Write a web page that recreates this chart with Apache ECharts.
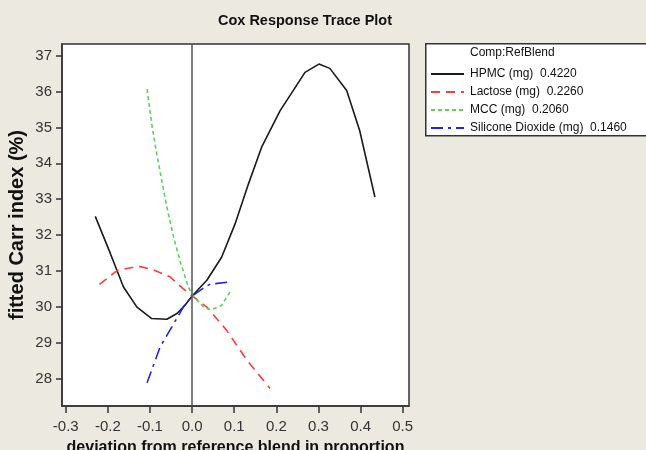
<!DOCTYPE html>
<html>
<head>
<meta charset="utf-8">
<script src="https://cdn.jsdelivr.net/npm/echarts@6/dist/echarts.min.js"></script>
<style>
html,body{margin:0;padding:0;background:#ECE9E1;}
#chart{width:646px;height:450px;}
</style>
</head>
<body>
<div id="chart"></div>
<script>
var title = 'Cox Response Trace Plot';
var xName = 'deviation from reference blend in proportion';
var yName = 'fitted Carr index (%)';
var legendHeader = 'Comp:RefBlend';
var seriesNames = ['HPMC (mg)  0.4220', 'Lactose (mg)  0.2260', 'MCC (mg)  0.2060', 'Silicone Dioxide (mg)  0.1460'];

var xTicks = [-0.3, -0.2, -0.1, 0.0, 0.1, 0.2, 0.3, 0.4, 0.5];
var yTicks = [28, 29, 30, 31, 32, 33, 34, 35, 36, 37];

var hpmcX = [-0.23, -0.194, -0.163, -0.131, -0.096, -0.06, -0.036, -0.017, 0.0, 0.035, 0.07, 0.102, 0.133, 0.165, 0.209, 0.24, 0.268, 0.301, 0.327, 0.367, 0.398, 0.434];
var hpmcY = [32.52, 31.48, 30.55, 29.99, 29.67, 29.65, 29.81, 30.04, 30.3, 30.74, 31.38, 32.31, 33.4, 34.45, 35.47, 36.03, 36.54, 36.77, 36.65, 36.03, 34.91, 33.06];

var lactoseX = [-0.22, -0.178, -0.127, -0.092, -0.052, -0.021, 0.0, 0.035, 0.082, 0.13, 0.185];
var lactoseY = [30.62, 31.01, 31.13, 31.03, 30.83, 30.5, 30.3, 29.99, 29.34, 28.51, 27.72];

var mccX = [-0.107, -0.096, -0.084, -0.072, -0.06, -0.044, -0.028, -0.009, 0.003, 0.027, 0.045, 0.07, 0.09];
var mccY = [36.07, 35.1, 34.26, 33.52, 32.78, 31.94, 31.25, 30.55, 30.3, 29.99, 29.91, 30.04, 30.41];

var siliconeX = [-0.107, -0.076, -0.048, -0.021, 0.0, 0.027, 0.043, 0.09];
var siliconeY = [27.88, 28.88, 29.44, 29.99, 30.3, 30.52, 30.63, 30.69];

function pairs(xs, ys) { return xs.map(function (x, i) { return [x, ys[i]]; }); }

var chart = echarts.init(document.getElementById('chart'), null, {renderer: 'canvas'});
var FONT = '"Liberation Sans", Arial, sans-serif';

function lineSeries(name, xs, ys, color, dash) {
  return {
    name: name, type: 'line', data: pairs(xs, ys),
    symbol: 'none', showSymbol: false, silent: true, animation: false,
    lineStyle: {color: color, width: 1.6, type: dash},
    itemStyle: {color: color}
  };
}

var series = [
  lineSeries(seriesNames[0], hpmcX, hpmcY, '#1a1a1a', 'solid'),
  lineSeries(seriesNames[1], lactoseX, lactoseY, '#ff3b3b', [9, 6]),
  lineSeries(seriesNames[2], mccX, mccY, '#5fcf5f', [4, 3]),
  lineSeries(seriesNames[3], siliconeX, siliconeY, '#2020f0', [12, 5, 3, 5])
];
series[0].markLine = {
  silent: true, symbol: 'none', animation: false,
  label: {show: false},
  lineStyle: {color: '#555555', width: 1.5, type: 'solid'},
  data: [{xAxis: 0}]
};

chart.setOption({
  backgroundColor: '#ECE9E1',
  animation: false,
  title: {
    text: title, left: 300, top: 8, textAlign: 'center',
    textStyle: {fontFamily: FONT, fontSize: 14.5, fontWeight: 'bold', color: '#111'}
  },
  grid: {
    left: 62, top: 44, right: 237, bottom: 44,
    containLabel: false, outerBoundsMode: 'none',
    show: true, backgroundColor: '#ffffff', borderColor: '#333333', borderWidth: 1.5
  },
  legend: {
    orient: 'vertical', left: 425, top: 63,
    itemWidth: 33, itemHeight: 10, itemGap: 6,
    data: seriesNames,
    selectedMode: false,
    itemStyle: {opacity: 0},
    textStyle: {fontFamily: FONT, fontSize: 12, color: '#111', padding: [0, 0, 0, 1]}
  },
  graphic: [
    {type: 'rect', left: 425, top: 43, shape: {width: 240, height: 92}, z: -1,
     style: {fill: '#ffffff', stroke: '#333333', lineWidth: 1.5}},
    {type: 'text', left: 470, top: 47, z: 10,
     style: {text: legendHeader, font: '12px ' + FONT, fill: '#111'}}
  ],
  xAxis: {
    type: 'value', min: -0.309, max: 0.515,
    name: xName, nameLocation: 'middle', nameGap: 34,
    nameTextStyle: {fontFamily: FONT, fontSize: 16, fontWeight: 'bold', color: '#111'},
    axisLine: {show: true, onZero: false, lineStyle: {color: '#333', width: 1.5}},
    axisTick: {show: true, inside: false, length: 7, customValues: xTicks, lineStyle: {color: '#333', width: 1.5}},
    axisLabel: {customValues: xTicks, margin: 13, fontFamily: FONT, fontSize: 15, color: '#333',
      formatter: function (v) { return v.toFixed(1); }},
    splitLine: {show: false}
  },
  yAxis: {
    type: 'value', min: 27.23, max: 37.33,
    name: yName, nameLocation: 'middle', nameGap: 35, nameMoveOverlap: false,
    nameTextStyle: {fontFamily: FONT, fontSize: 20, fontWeight: 'bold', color: '#111'},
    axisLine: {show: true, onZero: false, lineStyle: {color: '#333', width: 1.5}},
    axisTick: {show: true, inside: false, length: 6, customValues: yTicks, lineStyle: {color: '#333', width: 1.5}},
    axisLabel: {customValues: yTicks, margin: 10, fontFamily: FONT, fontSize: 15, color: '#333'},
    splitLine: {show: false}
  },
  series: series
});
</script>
</body>
</html>
